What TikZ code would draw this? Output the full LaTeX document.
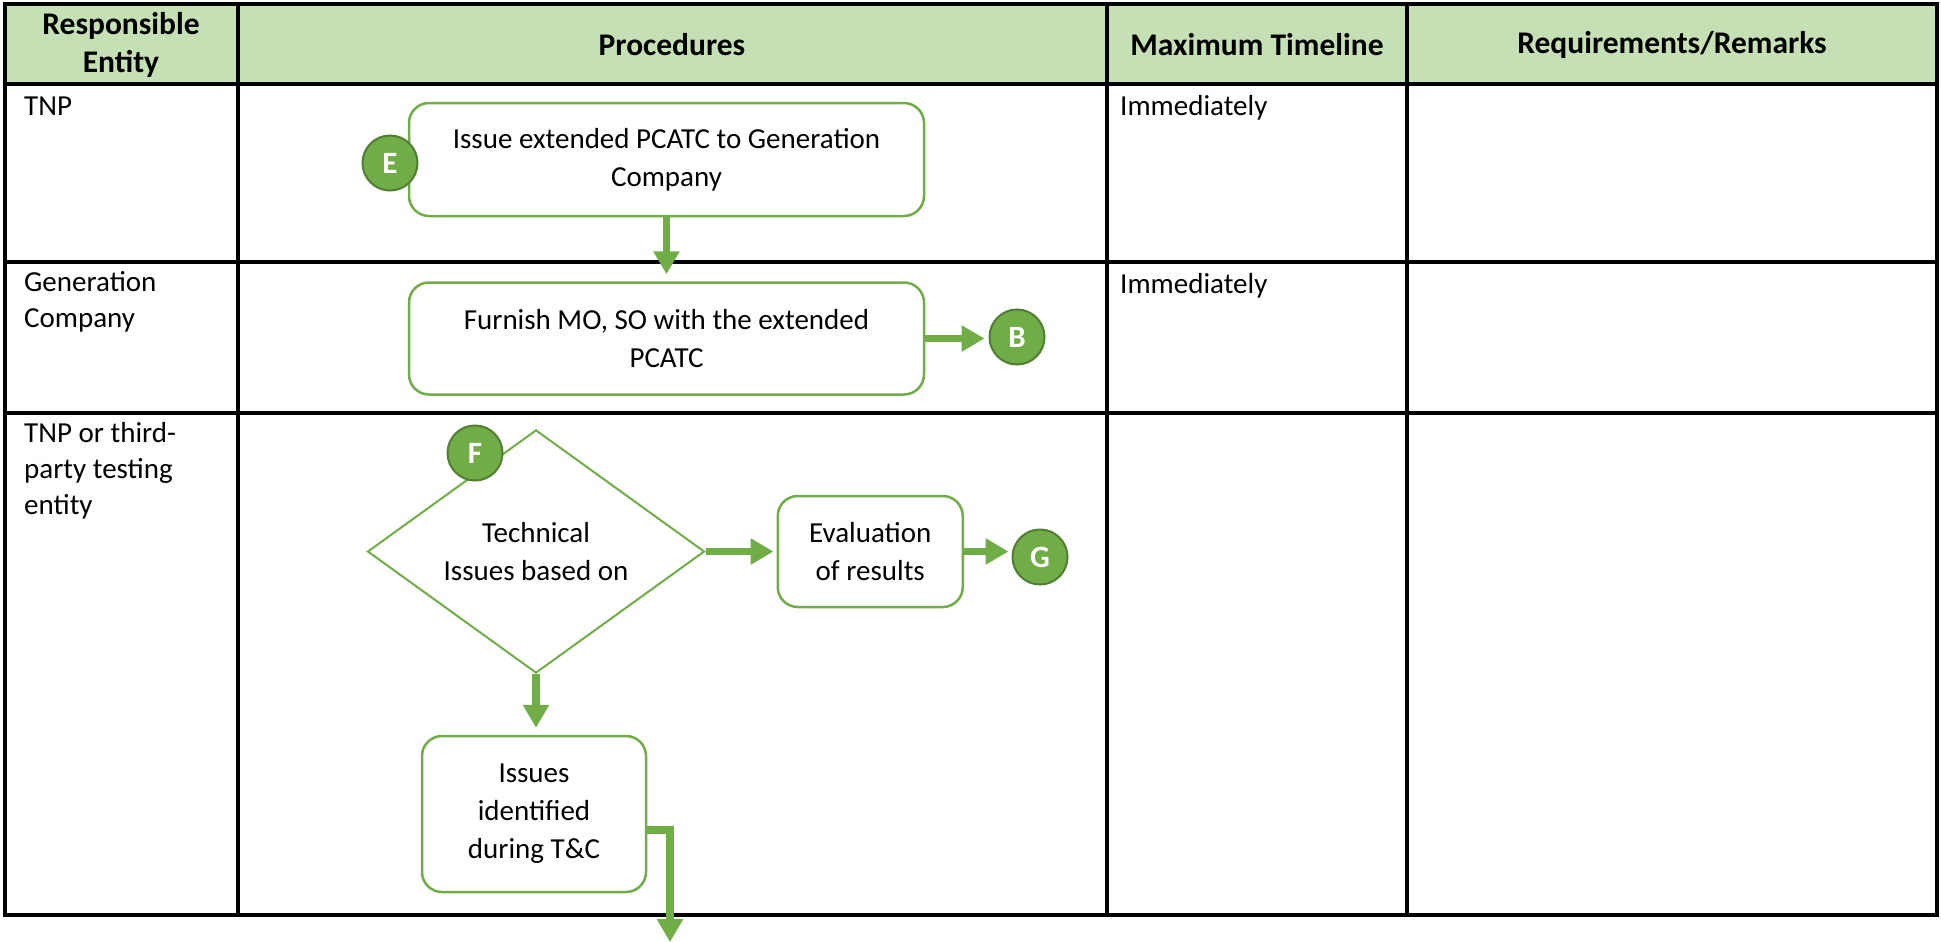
\documentclass[tikz,border=0pt]{standalone}
\usepackage{fontspec}
\setmainfont{Carlito}
\usepackage{pgf,tikz}
\usetikzlibrary{arrows.meta,shapes.geometric,positioning}
\definecolor{flowgreen}{HTML}{70AD47}
\definecolor{circgreen}{HTML}{507E32}
\definecolor{headgreen}{HTML}{C5E0B4}

\begin{document}
\begin{tikzpicture}[x=1pt,y=1pt,
  txt/.style={font=\fontsize{29}{36}\selectfont, inner sep=0pt},
  head/.style={font=\bfseries\fontsize{31.5}{38}\selectfont, align=center, inner sep=0pt},
  procbox/.style={draw=flowgreen, line width=2.5pt, rounded corners=20pt, fill=white, align=center, inner sep=0pt, font=\fontsize{29}{38}\selectfont},
  decision/.style={diamond, draw=flowgreen, line width=2pt, fill=white, align=center, inner sep=0pt, font=\fontsize{29}{38}\selectfont},
  connector/.style={circle, fill=flowgreen, draw=circgreen, line width=2pt, minimum size=55pt, inner sep=0pt, text=white, font=\bfseries\fontsize{31}{31}\selectfont},
  flow/.style={draw=flowgreen, line width=7.5pt, -{Triangle[length=23pt,width=25pt]}}]

\useasboundingbox (0,0) rectangle (1941,-942);
\fill[headgreen] (5,-4) rectangle (1937,-84);
\draw[line width=3.5pt] (5,-4) rectangle (1937,-915);
\draw[line width=3.5pt] (5,-84) -- (1937,-84) (5,-262) -- (1937,-262) (5,-413) -- (1937,-413);
\draw[line width=3.5pt] (238,-4) -- (238,-915) (1107,-4) -- (1107,-915) (1407,-4) -- (1407,-915);

\node[head] (hentity) at (121,-45) {Responsible\\Entity};
\node[head] (hproc) at (672,-45) {Procedures};
\node[head] (htime) at (1257,-45) {Maximum Timeline};
\node[head] (hreq) at (1672,-45) {Requirements/Remarks};

\node[txt, anchor=base west] (etnp) at (24,-115) {TNP};
\node[txt, anchor=north west, align=left] (egen) at (24,-271) {Generation\\Company};
\node[txt, anchor=north west, align=left] (etest) at (24,-422) {TNP or third-\\party testing\\entity};
\node[txt, anchor=base west] (time1) at (1120,-115) {Immediately};
\node[txt, anchor=base west] (time2) at (1120,-293) {Immediately};

\node[procbox, minimum width=515pt, minimum height=113pt] (issue) at (666.5,-159.5) {Issue extended PCATC to Generation\\Company};
\node[procbox, minimum width=515pt, minimum height=112pt, below=64pt of issue] (furnish) {Furnish MO, SO with the extended\\PCATC};
\node[decision, minimum width=337pt, minimum height=236pt] (tech) at (536,-551.5) {Technical\\Issues based on};
\node[procbox, minimum width=185pt, minimum height=111pt, right=71pt of tech] (eval) {Evaluation\\of results};
\node[procbox, minimum width=224pt, minimum height=156pt] (issues) at (534,-814) {Issues\\identified\\during T\&C};
\coordinate (exit) at (670,-942);

\node[connector] (circE) at (390,-163) {E};
\node[connector] (circB) at (1017,-337) {B};
\node[connector] (circF) at (475,-453) {F};
\node[connector] (circG) at (1040,-557) {G};

\draw[flow, shorten >=7pt] (issue) -- (furnish);
\draw[flow, shorten >=4pt] (furnish.east) -- (furnish.east -| circB.west);
\draw[flow, shorten >=3pt] (tech.east) -- (eval.west);
\draw[flow, shorten >=3pt] (eval.east) -- (eval.east -| circG.west);
\draw[flow, shorten >=7pt] (tech.south) -- (tech.south |- issues.north);
\draw[flow] ([yshift=-16pt]issues.east) -| (exit);
\end{tikzpicture}
\end{document}
